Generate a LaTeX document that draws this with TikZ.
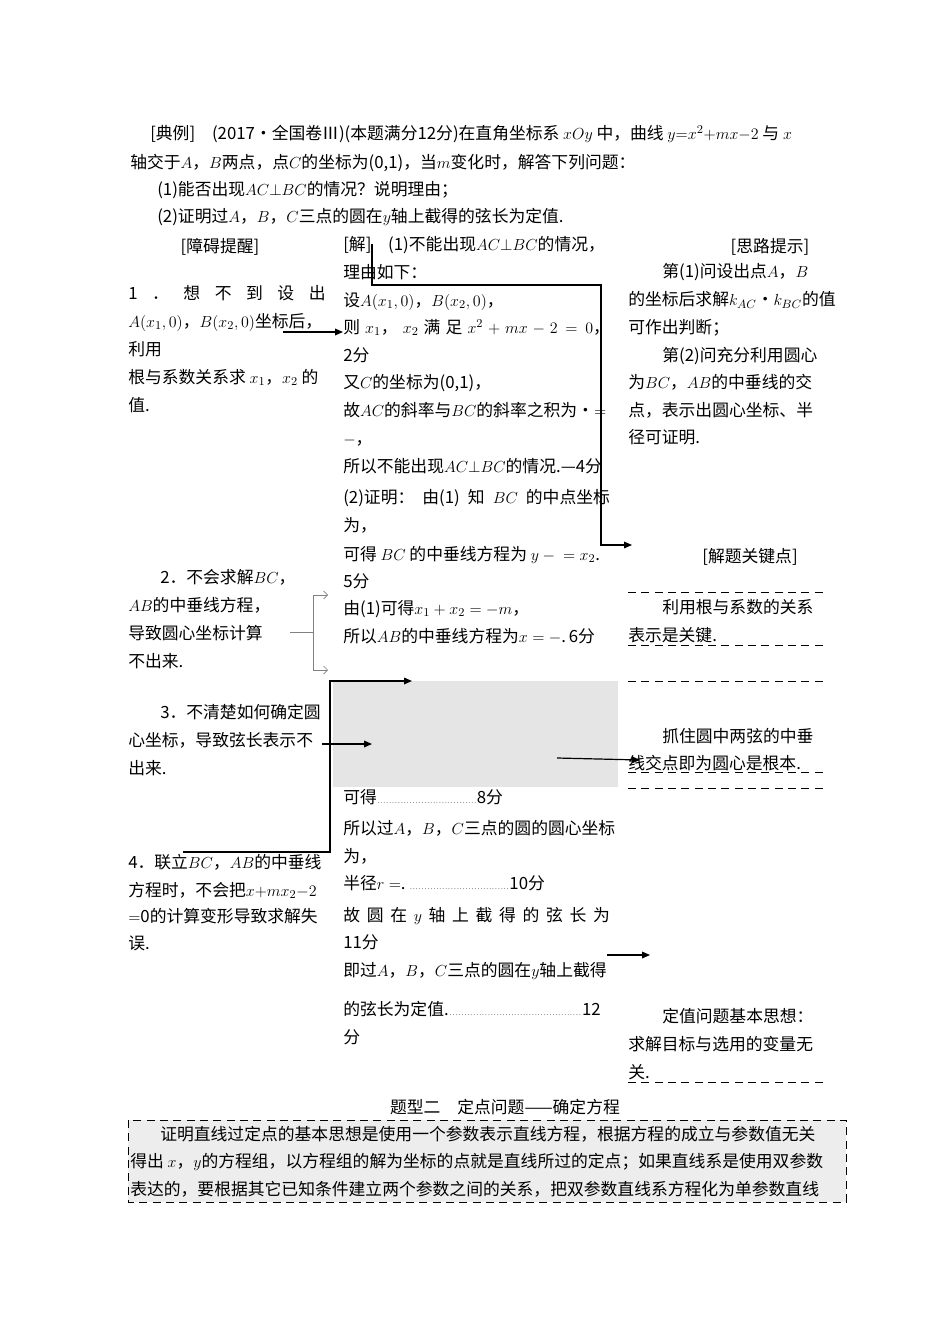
\documentclass[tikz,border=0pt]{standalone}
\usepackage{fontspec}
\setmainfont{Noto Sans CJK SC}
\usetikzlibrary{arrows.meta}
\newcommand\Ln[4]{\node[tx] (#1) at (#2,#3) {#4};}
\newcommand\Cn[4]{\node[tx,anchor=center] (#1) at (#2,#3) {#4};}
\newcommand\J[2]{\makebox[#1][s]{#2}}
\begin{document}
\begin{tikzpicture}[x=0.75pt,y=-0.75pt,
 tx/.style={anchor=mid west,inner sep=0pt,yshift=-2.2pt,font=\fontsize{12.6}{14}\selectfont},
 arr/.style={-{Triangle[length=6pt,width=5pt]},line width=0.9pt},
 thin/.style={-{Straight Barb[length=3pt]},gray,line width=0.5pt},
 dsh/.style={dash pattern=on 6pt off 4pt,line width=0.6pt}]
\useasboundingbox (0,0) rectangle (950,1344);
\fill[white] (0,0) rectangle (950,1344);
% top
\Ln{a1}{150}{133}{[典例]\quad (2017·全国卷Ⅲ)(本题满分12分)在直角坐标系 $xOy$ 中，曲线 $y{=}x^2{+}mx{-}2$ 与 $x$}
\Ln{a2}{130}{162}{轴交于$A$，$B$两点，点$C$的坐标为(0,1)，当$m$变化时，解答下列问题：}
\Ln{a3}{157}{189}{(1)能否出现$AC{\perp}BC$的情况？说明理由；}
\Ln{a4}{157}{216}{(2)证明过$A$，$B$，$C$三点的圆在$y$轴上截得的弦长为定值.}
% left
\Cn{l0}{220}{244}{[障碍提醒]}
\Ln{l1}{128}{293}{\J{148pt}{1 ． 想 不 到 设 出}}
\Ln{l2}{128}{321}{$A(x_1,0)$，$B(x_2,0)$坐标后，}
\Ln{l3}{128}{349}{利用}
\Ln{l4}{128}{377}{根与系数关系求 $x_1$，$x_2$ 的}
\Ln{l5}{128}{405}{值.}
\Ln{m1}{160}{577}{2．不会求解$BC$，}
\Ln{m2}{128}{605}{$AB$的中垂线方程，}
\Ln{m3}{128}{633}{导致圆心坐标计算}
\Ln{m4}{128}{661}{不出来.}
\Ln{n1}{160}{712}{3．不清楚如何确定圆}
\Ln{n2}{128}{740}{心坐标，导致弦长表示不}
\Ln{n3}{128}{768}{出来.}
\Ln{p1}{128}{862}{4．联立$BC$，$AB$的中垂线}
\Ln{p2}{128}{890}{方程时，不会把$x{+}mx_2{-}2$}
\Ln{p3}{128}{916}{$=$0的计算变形导致求解失}
\Ln{p4}{128}{943}{误.}
% middle
\fill[black!10] (333,681) rectangle (618,787);
\Ln{s1}{343}{244}{[解]\quad (1)不能出现$AC{\perp}BC$的情况，}
\Ln{s2}{343}{272}{理由如下：}
\Ln{s3}{343}{300}{设$A(x_1,0)$，$B(x_2,0)$，}
\Ln{s4}{343}{327}{\J{200pt}{则 $x_1$， $x_2$ 满 足 $x^2+mx-2=0$，}}
\Ln{s5}{343}{355}{2分}
\Ln{s6}{343}{382}{又$C$的坐标为(0,1)，}
\Ln{s7}{343}{410}{故$AC$的斜率与$BC$的斜率之积为·$=$}
\Ln{s8}{343}{438}{$-$，}
\Ln{s9}{343}{466}{所以不能出现$AC{\perp}BC$的情况.---4分}
\Ln{s10}{343}{497}{\J{200pt}{(2)证明： 由(1) 知 $BC$ 的中点坐标}}
\Ln{s11}{343}{525}{为，}
\Ln{s12}{343}{554}{可得 $BC$ 的中垂线方程为 $y-{}=x_2$.}
\Ln{s13}{343}{581}{5分}
\Ln{s14}{343}{608}{由(1)可得$x_1+x_2=-m$，}
\Ln{s15}{343}{636}{所以$AB$的中垂线方程为$x=-$.\,6分}
\Ln{s16}{343}{797}{可得\makebox[75pt]{\tiny\dotfill}8分}
\Ln{s17}{343}{828}{所以过$A$，$B$，$C$三点的圆的圆心坐标}
\Ln{s18}{343}{856}{为，}
\Ln{s19}{343}{883}{半径$r=$.\ \makebox[75pt]{\tiny\dotfill}10分}
\Ln{s20}{343}{915}{\J{200pt}{故 圆 在 $y$ 轴 上 截 得 的 弦 长 为}}
\Ln{s21}{343}{942}{11分}
\Ln{s22}{343}{970}{即过$A$，$B$，$C$三点的圆在$y$轴上截得}
\Ln{s23}{343}{1009}{的弦长为定值.\makebox[100pt]{\tiny\dotfill}12}
\Ln{s24}{343}{1037}{分}
% right
\Cn{r0}{770}{244}{[思路提示]}
\Ln{r1}{662}{271}{第(1)问设出点$A$，$B$}
\Ln{r2}{628}{299}{的坐标后求解$k_{AC}$·$k_{BC}$的值}
\Ln{r3}{628}{327}{可作出判断；}
\Ln{r4}{662}{355}{第(2)问充分利用圆心}
\Ln{r5}{628}{382}{为$BC$，$AB$的中垂线的交}
\Ln{r6}{628}{410}{点，表示出圆心坐标、半}
\Ln{r7}{628}{437}{径可证明.}
\Cn{k0}{750}{554}{[解题关键点]}
\Ln{k1}{662}{607}{利用根与系数的关系}
\Ln{k2}{628}{635}{表示是关键.}
\Ln{k3}{662}{736}{抓住圆中两弦的中垂}
\Ln{k4}{628}{763}{线交点即为圆心是根本.}
\Ln{k5}{662}{1016}{定值问题基本思想：}
\Ln{k6}{628}{1044}{求解目标与选用的变量无}
\Ln{k7}{628}{1072}{关.}
\foreach \yy in {592,645,681,772,788,1082} \draw[dsh] (628,\yy) -- (826,\yy);
% bottom
\Cn{b0}{505}{1104}{题型二\quad 定点问题——确定方程}
\draw[dsh,fill=black!7] (128,1120) rectangle (846,1202);
\Ln{b1}{160}{1134}{证明直线过定点的基本思想是使用一个参数表示直线方程，根据方程的成立与参数值无关}
\Ln{b2}{130}{1161}{得出 $x$，$y$的方程组，以方程组的解为坐标的点就是直线所过的定点；如果直线系是使用双参数}
\Ln{b3}{130}{1189}{表达的，要根据其它已知条件建立两个参数之间的关系，把双参数直线系方程化为单参数直线}
% connectors
\coordinate (e1) at (283,332); \coordinate (f1) at (343,332);
\draw[arr] (e1) -- (f1);
\coordinate (c1) at (372,244); \coordinate (c2) at (632,545);
\draw[arr,line width=0.8pt] (c1) -- (372,285) -- (601,285) -- (601,545) -- (c2);
\coordinate (g0) at (290,632); \coordinate (g1) at (328,595); \coordinate (g2) at (328,670);
\draw[gray,line width=0.5pt] (g0) -- (313,632);
\draw[thin] (313,632) |- (g1);
\draw[thin] (313,632) |- (g2);
\coordinate (h0) at (183,852); \coordinate (h1) at (412,681);
\draw[arr] (h0) -- (330,852) -- (330,681) -- (h1);
\coordinate (i0) at (322,744); \coordinate (i1) at (372,744);
\draw[arr] (i0) -- (i1);
\coordinate (j0) at (557,758); \coordinate (j1) at (640,760);
\draw[arr] (j0) -- (j1);
\coordinate (o0) at (607,955); \coordinate (o1) at (650,955);
\draw[arr] (o0) -- (o1);
\end{tikzpicture}
\end{document}
